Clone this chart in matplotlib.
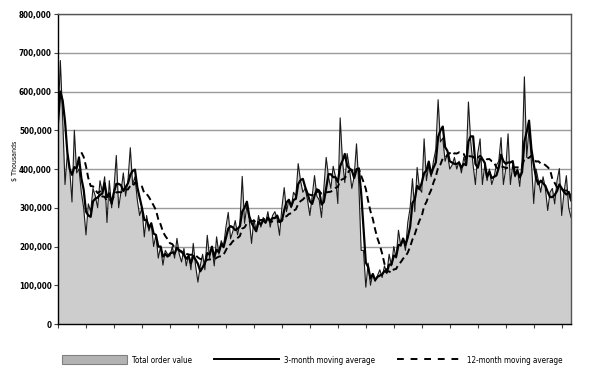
import matplotlib
matplotlib.use("Agg")
import matplotlib.pyplot as plt
import matplotlib.patches as mpatches
from matplotlib.lines import Line2D
import matplotlib.ticker as mticker
import pandas as pd

plt.rcParams['font.family'] = ['DejaVu Sans']
plt.rcParams['font.stretch'] = 'condensed'

# monthly total order value, $ thousands
order_value = [
    520, 680, 530, 360, 440, 400, 315, 500, 390, 400, 340, 300,
    230, 310, 290, 350, 330, 300, 370, 340, 380, 262, 370, 300,
    350, 435, 300, 340, 390, 330, 370, 455, 360, 380, 320, 280,
    300, 225, 280, 240, 260, 200, 230, 170, 200, 152, 190, 180,
    175, 200, 170, 221, 180, 160, 195, 150, 180, 140, 208, 150,
    108, 150, 180, 140, 229, 170, 200, 150, 225, 180, 215, 200,
    250, 288, 220, 240, 267, 230, 260, 381, 260, 306, 270, 208,
    270, 240, 280, 250, 275, 260, 290, 250, 280, 290, 270, 229,
    300, 352, 290, 320, 300, 340, 330, 414, 370, 340, 350, 320,
    280, 330, 383, 330, 320, 275, 350, 430, 380, 350, 407, 380,
    311, 532, 420, 365, 440, 400, 350, 380, 465, 360, 190, 190,
    95, 157, 100, 130, 110, 125, 140, 120, 150, 130, 180, 150,
    200, 170, 242, 200, 220, 190, 262, 300, 375, 290, 404, 350,
    340, 478, 370, 410, 380, 420, 450, 579, 470, 480, 420, 440,
    400, 410, 430, 400, 420, 390, 430, 410, 573, 470, 410, 360,
    440, 478, 360, 410, 370, 400, 360, 380, 410, 420, 481, 360,
    400, 491, 360, 410, 380, 400, 355, 420, 638, 430, 507, 420,
    311, 400, 370, 340, 380, 350, 293, 340, 350, 310, 370, 401,
    280, 340, 383, 300, 275,
]
y_ticks = [0, 100000, 200000, 300000, 400000, 500000, 600000, 700000, 800000]
legend_labels = ["Total order value", "3-month moving average", "12-month moving average"]

# build the series in $ and the moving averages
s = pd.Series(order_value) * 1000
ma3 = s.rolling(3, min_periods=1).mean()
ma12 = s.rolling(12, min_periods=11).mean()
months = list(range(len(s)))

fig = plt.figure(figsize=(5.95, 3.7), dpi=100)
ax = fig.add_axes([0.0975, 0.1243, 0.8622, 0.8377])

# gray area with its thin outline
ax.fill_between(months, s, 0, color='#cdcdcd', linewidth=0)
ax.plot(months, s, color='#1a1a1a', linewidth=0.8)

# moving averages
ax.plot(months, ma3, color='black', linewidth=1.6)
ax.plot(months, ma12, color='black', linewidth=1.4, dashes=(3.5, 2))

# axes limits and ticks
ax.set_xlim(0, len(s) - 1)
ax.set_ylim(0, 800000)
ax.set_yticks(y_ticks)
ax.yaxis.set_major_formatter(mticker.FuncFormatter(lambda v, p: f"{int(v):,}"))
ax.set_xticks(range(0, len(s), 12))
ax.set_xticklabels([])
ax.tick_params(axis='x', direction='out', length=3, width=0.8, color='#444444')
ax.tick_params(axis='y', direction='out', length=3, width=0.8, color='#444444',
               labelsize=5.8, pad=1.5)
for lbl in ax.get_yticklabels():
    lbl.set_fontweight('bold')

# horizontal grid
ax.grid(axis='y', color='#9a9a9a', linewidth=1.0)
ax.set_axisbelow(True)
for side in ['left', 'bottom']:
    ax.spines[side].set_color('black')
    ax.spines[side].set_linewidth(1.0)
for side in ['top', 'right']:
    ax.spines[side].set_color('#555555')
    ax.spines[side].set_linewidth(1.0)

# axis title sits left of the tick labels
fig.text(0.026, 0.565, "$ Thousands", rotation=90, fontsize=5, ha='center', va='center')

# legend under the plot
handles = [
    mpatches.Patch(facecolor='#b3b3b3', edgecolor='#808080', linewidth=0.8),
    Line2D([], [], color='black', linewidth=1.4),
    Line2D([], [], color='black', linewidth=1.4, dashes=(3.5, 3.5)),
]
fig.legend(handles, legend_labels, loc='center', bbox_to_anchor=(0.525, 0.027),
           ncol=3, frameon=False, fontsize=5.8, handlelength=8, handleheight=1.3,
           columnspacing=2.8, handletextpad=0.6)

fig.savefig("out.png", dpi=100)
